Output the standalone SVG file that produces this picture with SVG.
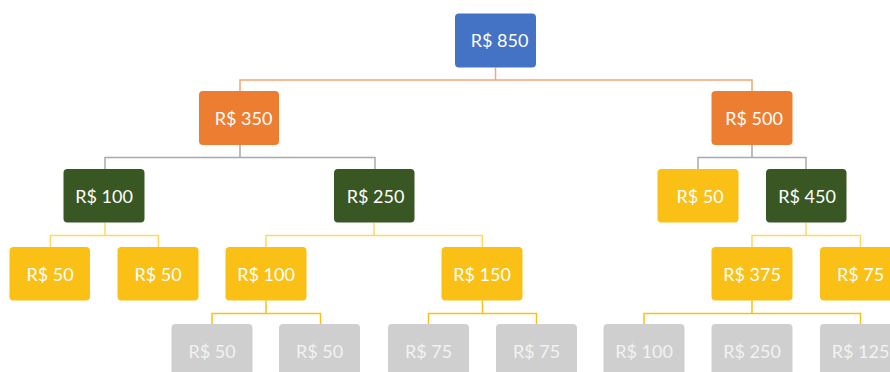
<svg xmlns="http://www.w3.org/2000/svg" width="890" height="372" viewBox="0 0 890 372">
<style>
.n rect{rx:4px;ry:4px}
.blue{fill:#4472C4}
.orange{fill:#ED7D31}
.green{fill:#385723}
.yellow{fill:#FBC016}
.gray{fill:#CFCFCF}
text{font-family:Lato,"Open Sans","Liberation Sans",sans-serif;font-size:18px;text-anchor:middle;dominant-baseline:central;fill:#FFFFFF}
.g text{fill:#F2F2F2}
.c path{fill:none;stroke-width:1.5}
.c1{stroke:#F4A872}
.c2{stroke:#A9A9A9}
.c3{stroke:#FFD862}
.c4{stroke:#FBC016}
</style>
<g class="c" id="connectors">
<path class="c1" d="M495.5 67.5V80M240 91V80H752V91"/>
<path class="c2" d="M240 145V157.5M105 169V157.5H375V169"/>
<path class="c2" d="M752 145V157.5M698 169V157.5H806V169"/>
<path class="c3" d="M105 222.5V235.5M50.5 247V235.5H158.5V247"/>
<path class="c3" d="M374 222.5V235.5M266 247V235.5H482.5V247"/>
<path class="c3" d="M806 222.5V235.5M752 247V235.5H860.5V247"/>
<path class="c4" d="M266 300.5V313.5M212 324V313.5H320.5V324"/>
<path class="c4" d="M482.5 300.5V313.5M428.5 324V313.5H536.5V324"/>
<path class="c4" d="M752 300.5V313.5M644 324V313.5H860.5V324"/>
</g>
<g class="n" id="n850"><rect class="blue" x="455" y="13.5" width="81" height="54"/><text x="499.5" y="40">R$ 850</text></g>
<g class="n" id="n350"><rect class="orange" x="199" y="91" width="80" height="54"/><text x="243.5" y="118">R$ 350</text></g>
<g class="n" id="n500"><rect class="orange" x="711.5" y="91" width="81" height="54"/><text x="754" y="118">R$ 500</text></g>
<g class="n" id="n100a"><rect class="green" x="63.5" y="169" width="81" height="53.5"/><text x="104" y="196">R$ 100</text></g>
<g class="n" id="n250"><rect class="green" x="334" y="169" width="80.5" height="53.5"/><text x="375.5" y="196">R$ 250</text></g>
<g class="n" id="n50r"><rect class="yellow" x="657.5" y="169" width="81" height="53.5"/><text x="700" y="196">R$ 50</text></g>
<g class="n" id="n450"><rect class="green" x="766" y="169" width="80.5" height="53.5"/><text x="807" y="196">R$ 450</text></g>
<g class="n" id="n50a"><rect class="yellow" x="9.5" y="247" width="80.5" height="53.5"/><text x="50" y="274">R$ 50</text></g>
<g class="n" id="n50b"><rect class="yellow" x="117.5" y="247" width="81" height="53.5"/><text x="158" y="274">R$ 50</text></g>
<g class="n" id="n100b"><rect class="yellow" x="225.5" y="247" width="81" height="53.5"/><text x="266" y="274">R$ 100</text></g>
<g class="n" id="n150"><rect class="yellow" x="441.5" y="247" width="81" height="53.5"/><text x="482" y="274">R$ 150</text></g>
<g class="n" id="n375"><rect class="yellow" x="711.5" y="247" width="81" height="53.5"/><text x="752" y="274">R$ 375</text></g>
<g class="n" id="n75r"><rect class="yellow" x="820" y="247" width="81" height="53.5"/><text x="860.5" y="274">R$ 75</text></g>
<g class="n g" id="n50c"><rect class="gray" x="171.5" y="324" width="81" height="54"/><text x="212" y="351">R$ 50</text></g>
<g class="n g" id="n50d"><rect class="gray" x="279" y="324" width="81" height="54"/><text x="319.5" y="351">R$ 50</text></g>
<g class="n g" id="n75a"><rect class="gray" x="388" y="324" width="81" height="54"/><text x="428.5" y="351">R$ 75</text></g>
<g class="n g" id="n75b"><rect class="gray" x="496" y="324" width="81" height="54"/><text x="536.5" y="351">R$ 75</text></g>
<g class="n g" id="n100c"><rect class="gray" x="603.5" y="324" width="81" height="54"/><text x="644" y="351">R$ 100</text></g>
<g class="n g" id="n250b"><rect class="gray" x="711.5" y="324" width="81" height="54"/><text x="752" y="351">R$ 250</text></g>
<g class="n g" id="n125"><rect class="gray" x="820" y="324" width="81" height="54"/><text x="860.5" y="351">R$ 125</text></g>
</svg>
